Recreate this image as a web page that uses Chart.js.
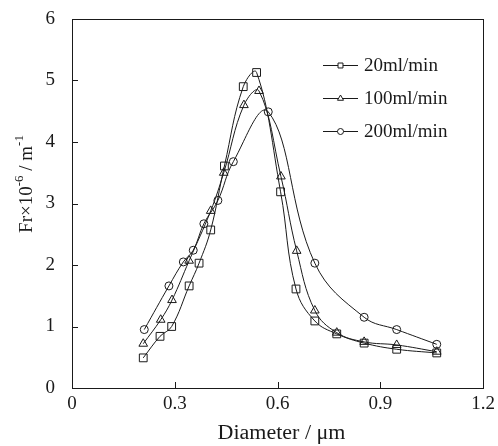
<!DOCTYPE html>
<html>
<head>
<meta charset="utf-8">
<script src="https://cdn.jsdelivr.net/npm/chart.js@4.4.1/dist/chart.umd.min.js"></script>
<style>
  html, body { margin: 0; padding: 0; background: #fff; }
  #wrap { width: 498px; height: 446px; position: relative; }
</style>
</head>
<body>
<div id="wrap"><canvas id="frChart"></canvas></div>
<script>
// Diameter (um) and Fr x 10^-6 (1/m)
const diam20 = [0.208, 0.257, 0.291, 0.342, 0.371, 0.405, 0.445, 0.500, 0.539, 0.609, 0.654, 0.709, 0.773, 0.853, 0.948, 1.065];
const fr20   = [0.49, 0.84, 1.00, 1.66, 2.03, 2.57, 3.61, 4.90, 5.13, 3.19, 1.61, 1.09, 0.88, 0.73, 0.63, 0.57];

const diam100 = [0.208, 0.259, 0.292, 0.342, 0.405, 0.443, 0.502, 0.546, 0.610, 0.656, 0.709, 0.773, 0.853, 0.948, 1.065];
const fr100   = [0.72, 1.11, 1.43, 2.07, 2.88, 3.50, 4.60, 4.83, 3.44, 2.23, 1.26, 0.90, 0.75, 0.70, 0.59];

const diam200 = [0.211, 0.283, 0.325, 0.354, 0.385, 0.426, 0.471, 0.573, 0.709, 0.853, 0.948, 1.065];
const fr200   = [0.95, 1.66, 2.05, 2.24, 2.67, 3.05, 3.68, 4.49, 2.03, 1.15, 0.95, 0.71];

const seriesLabels = ['20ml/min', '100ml/min', '200ml/min'];
const xTicks = [0, 0.3, 0.6, 0.9, 1.2];
const yTicks = [0, 1, 2, 3, 4, 5, 6];
const xTitle = 'Diameter / \u03bcm';

const FONT = "'Liberation Serif', 'Times New Roman', serif";
const INK = '#1a1a1a';

function toPoints(xs, ys) {
    return xs.map((x, i) => ({ x: x, y: ys[i] }));
}

function makeSet(label, xs, ys, style, radius) {
    return {
        label: label,
        data: toPoints(xs, ys),
        borderColor: INK,
        borderWidth: 1,
        backgroundColor: 'rgba(0,0,0,0)',
        pointStyle: style,
        pointRadius: radius,
        pointBorderColor: INK,
        pointBorderWidth: 1,
        pointBackgroundColor: 'rgba(0,0,0,0)',
        tension: 0.4,
        fill: false
    };
}

// box, inward ticks, axis titles, and legend
const decorPlugin = {
    id: 'decor',
    afterDraw(chart) {
        const ctx = chart.ctx;
        const a = chart.chartArea;
        const xs = chart.scales.x, ys = chart.scales.y;
        ctx.save();
        ctx.strokeStyle = INK;
        ctx.lineWidth = 1;
        ctx.strokeRect(Math.round(a.left) + 0.5, Math.round(a.top) + 0.5,
            Math.round(a.right - a.left), Math.round(a.bottom - a.top));

        ctx.beginPath();
        xTicks.forEach(v => {
            const px = Math.round(xs.getPixelForValue(v)) + 0.5;
            ctx.moveTo(px, a.bottom);
            ctx.lineTo(px, a.bottom - 6);
        });
        yTicks.forEach(v => {
            const py = Math.round(ys.getPixelForValue(v)) + 0.5;
            ctx.moveTo(a.left, py);
            ctx.lineTo(a.left + 6, py);
        });
        ctx.stroke();
        ctx.restore();

        // x axis title, slightly widened like the original
        ctx.save();
        ctx.fillStyle = INK;
        ctx.font = '20px ' + FONT;
        ctx.textAlign = 'center';
        ctx.textBaseline = 'alphabetic';
        ctx.translate((a.left + a.right) / 2 + 4, 439);
        ctx.scale(1.1, 1);
        ctx.fillText(xTitle, 0, 0);
        ctx.restore();

        // y axis title: Fr×10^-6 / m^-1
        const parts = [
            { t: 'Fr\u00d710', sup: false },
            { t: '-6', sup: true },
            { t: ' / m', sup: false },
            { t: '-1', sup: true }
        ];
        ctx.save();
        ctx.translate(32, 184);
        ctx.rotate(-Math.PI / 2);
        let total = 0;
        parts.forEach(p => {
            ctx.font = (p.sup ? '13px ' : '19px ') + FONT;
            p.w = ctx.measureText(p.t).width;
            total += p.w;
        });
        let cx = -total / 2;
        ctx.fillStyle = INK;
        ctx.textBaseline = 'alphabetic';
        ctx.textAlign = 'left';
        parts.forEach(p => {
            ctx.font = (p.sup ? '13px ' : '19px ') + FONT;
            ctx.fillText(p.t, cx, p.sup ? -9 : 0);
            cx += p.w;
        });
        ctx.restore();

        // legend
        ctx.save();
        ctx.strokeStyle = INK;
        ctx.lineWidth = 1;
        ctx.font = '19px ' + FONT;
        ctx.textBaseline = 'middle';
        chart.data.datasets.forEach((ds, i) => {
            const y = 65 + i * 33;
            ctx.beginPath();
            ctx.moveTo(323, y + 0.5);
            ctx.lineTo(358, y + 0.5);
            ctx.stroke();
            ctx.fillStyle = '#fff';
            Chart.helpers.drawPoint(ctx, {
                pointStyle: ds.pointStyle,
                radius: ds.pointStyle === 'circle' ? 3 : 3.5,
                borderWidth: 1
            }, 340.5, y + 0.5);
            ctx.fillStyle = INK;
            ctx.fillText(ds.label, 364, y + 1);
        });
        ctx.restore();
    }
};

const ctx = document.getElementById('frChart').getContext('2d');
new Chart(ctx, {
    type: 'line',
    data: {
        datasets: [
            makeSet(seriesLabels[0], diam20, fr20, 'rect', 5.5),
            makeSet(seriesLabels[1], diam100, fr100, 'triangle', 5),
            makeSet(seriesLabels[2], diam200, fr200, 'circle', 4)
        ]
    },
    options: {
        responsive: true,
        maintainAspectRatio: false,
        animation: false,
        layout: { padding: { left: 0, right: 15, top: 19, bottom: 0 } },
        plugins: {
            legend: { display: false },
            tooltip: { enabled: false }
        },
        scales: {
            x: {
                type: 'linear',
                min: 0,
                max: 1.2,
                afterFit: s => { s.height = 58; s.paddingLeft = 0; s.paddingRight = 0; },
                afterBuildTicks: s => { s.ticks = xTicks.map(v => ({ value: v })); },
                grid: { display: false, drawTicks: false },
                border: { display: true, color: INK, width: 1 },
                ticks: {
                    color: INK,
                    padding: 5,
                    maxRotation: 0,
                    font: { family: FONT, size: 19 },
                    callback: v => v === 0 ? '0' : v.toFixed(1)
                }
            },
            y: {
                min: 0,
                max: 6,
                afterFit: s => { s.width = 72; s.paddingTop = 0; s.paddingBottom = 0; },
                afterBuildTicks: s => { s.ticks = yTicks.map(v => ({ value: v })); },
                grid: { display: false, drawTicks: false },
                border: { display: true, color: INK, width: 1 },
                ticks: {
                    color: INK,
                    padding: 17,
                    font: { family: FONT, size: 19 }
                }
            }
        }
    },
    plugins: [decorPlugin]
});
</script>
</body>
</html>
